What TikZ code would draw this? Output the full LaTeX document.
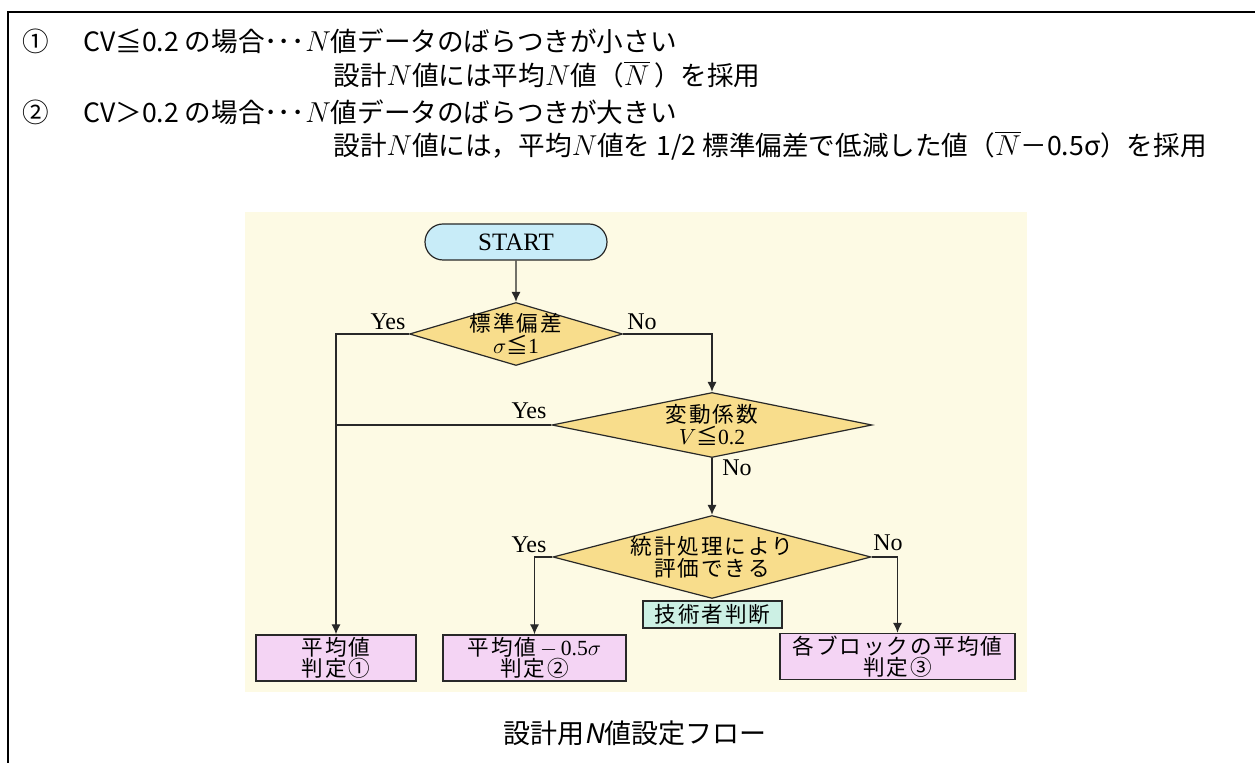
\documentclass[tikz,border=0pt]{standalone}
\usepackage{xcolor}
\usepackage{amsmath}
\usepackage{amssymb}
\usepackage{fontspec}
\setmainfont{Liberation Serif}
\newfontfamily\jp{Noto Sans CJK JP}
\newfontfamily\jpflow[LetterSpace=9]{Noto Sans CJK JP}
\newfontfamily\jpslant[FakeSlant=0.2]{Noto Sans CJK JP}
\usetikzlibrary{shapes,arrows,arrows.meta,positioning,calc}

\definecolor{panelcream}{RGB}{253,250,228}
\definecolor{startcyan}{RGB}{200,236,248}
\definecolor{decisionyellow}{RGB}{248,221,140}
\definecolor{resultpink}{RGB}{244,212,244}
\definecolor{judgemint}{RGB}{204,240,228}
\definecolor{flowline}{RGB}{40,40,40}

\begin{document}
\begin{tikzpicture}[
    x=0.5pt, y=-0.5pt, % one unit = one pixel of the page
    note/.style={
        anchor=base west,
        inner sep=0pt,
        font=\jp\fontsize{13.3}{15}\selectfont
    },
    terminal/.style={
        rounded rectangle,
        draw=flowline,
        line width=0.6pt,
        fill=startcyan,
        minimum width=91pt,
        minimum height=18pt,
        inner sep=0pt,
        font=\fontsize{12.5}{13}\selectfont
    },
    decision/.style={
        diamond,
        draw=flowline,
        line width=0.6pt,
        fill=decisionyellow,
        inner sep=0pt
    },
    flowtext/.style={
        align=center,
        inner sep=0pt,
        font=\jpflow\fontsize{10.8}{11.2}\selectfont
    },
    result/.style={
        rectangle,
        draw=flowline,
        line width=0.7pt,
        fill=resultpink,
        minimum height=23pt,
        inner sep=0pt,
        align=center,
        font=\jpflow\fontsize{10.8}{10.6}\selectfont
    },
    judge/.style={
        rectangle,
        draw=flowline,
        line width=0.6pt,
        fill=judgemint,
        minimum width=69.5pt,
        minimum height=13.5pt,
        inner sep=0pt,
        font=\jpflow\fontsize{10.8}{11}\selectfont
    },
    answer/.style={
        inner sep=0pt,
        font=\fontsize{12}{13}\selectfont
    },
    line/.style={
        draw=flowline,
        line width=0.7pt,
        -{Latex[length=5pt,width=4.6pt]}
    },
    plain/.style={
        draw=flowline,
        line width=0.7pt
    }
]
\useasboundingbox (0,0) rectangle (1255,763);

% Frame and panel
\draw[line width=1.2pt] (8,763) -- (8,12) -- (1255,12);
\fill[panelcream] (245,212) rectangle (1027,692);

% Notes
\node[note] (num1) at (22,52) {①};
\node[note] (desc1) at (305,52) {$N$値データのばらつきが小さい};
\node[note, anchor=base east] (cond1) at (desc1.base west) {CV≦0.2 の場合･･･};
\node[note] (rule1) at (333,86) {設計$N$値には平均$N$値（$\overline{N}$\,）を採用};
\node[note] (num2) at (22,123) {②};
\node[note] (desc2) at (305,123) {$N$値データのばらつきが大きい};
\node[note, anchor=base east] (cond2) at (desc2.base west) {CV＞0.2 の場合･･･};
\node[note] (rule2) at (333,156) {設計$N$値には，平均$N$値を 1/2 標準偏差で低減した値（$\overline{N}$－0.5σ）を採用};

% Nodes
\node[terminal] (start) at (516,242) {START};

\node[decision, minimum width=106.5pt, minimum height=31.5pt] (q1) at (516,334) {};
\node[flowtext] (q1text) at (q1) {標準偏差\\$\sigma$≦{\rmfamily 1}};

\node[decision, minimum width=160pt, minimum height=32.5pt] (q2) at (712,425) {};
\node[flowtext] (q2text) at (q2) {変動係数\\$V$≦{\rmfamily 0.2}};

\node[decision, minimum width=159pt, minimum height=41.5pt] (q3) at (712,557) {};
\node[flowtext] (q3text) at (q3) {統計処理により\\評価できる};

\node[judge] (engineer) at (712.5,614.5) {技術者判断};

\node[result, minimum width=80pt] (res1) at (336,658) {平均値\\判定①};
\node[result, minimum width=91.5pt] (res2) at (534.5,658) {平均値\,$-\,$\rmfamily 0.5$\sigma$\\\jpflow 判定②};
\node[result, minimum width=117.5pt] (res3) at (897.5,656.5) {各ブロックの平均値\\判定③};

% Yes / No labels
\node[answer] (yes1) at (388,322) {Yes};
\node[answer] (no1) at (642,322) {No};
\node[answer] (yes2) at (529,411) {Yes};
\node[answer] (no2) at (737,468) {No};
\node[answer] (yes3) at (529,545) {Yes};
\node[answer] (no3) at (888,543) {No};

% Paths
\path[line] (start) -- (q1);
\path[line] (q1.west) -| (res1.north);
\path[line] (q1.east) -| (q2.north);
\path[plain] (q2.west) -- (q2.west -| res1.north);
\path[line] (q2) -- (q3);
\path[line] (q3.west) -| (res2.north);
\path[line] (q3.east) -| (res3.north);

% Caption
\node[inner sep=0pt, font=\jp\fontsize{13.5}{15}\selectfont] (caption) at (635,733) {設計用{\jpslant N}値設定フロー};

\end{tikzpicture}
\end{document}
